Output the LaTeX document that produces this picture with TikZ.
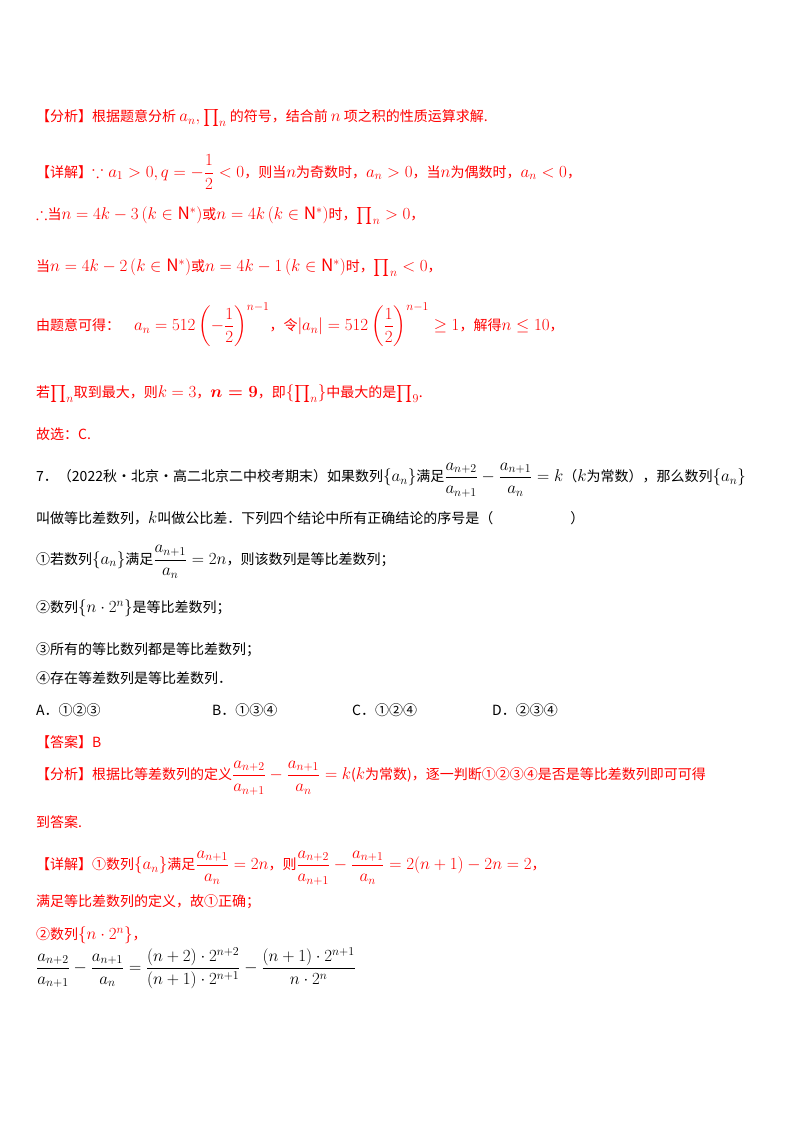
\documentclass[tikz,border=0pt]{standalone}
\usepackage{fix-cm}
\usepackage{amsmath,amssymb}
\usepackage{fontspec}
\setmainfont{Noto Sans CJK SC}
\DeclareMathSizes{14}{17}{12}{10}
\begin{document}
\begin{tikzpicture}[x=1pt,y=-1pt,
  ln/.style={anchor=west,inner sep=0pt,font=\fontsize{14}{16}\selectfont},
  rd/.style={ln,text=red}]
\useasboundingbox (0,0) rectangle (800,1132);
\node[rd] (l1) at (36,118) {【分析】根据题意分析 $a_n,\prod_n$ 的符号，结合前 $n$ 项之积的性质运算求解.};
\node[rd] (l2) at (36,172) {【详解】$\because a_1>0,q=-\dfrac12<0$，则当$n$为奇数时，$a_n>0$，当$n$为偶数时，$a_n<0$，};
\node[rd] (l3) at (36,216) {$\therefore$当$n=4k-3\left(k\in\mathrm{N}^*\right)$或$n=4k\left(k\in\mathrm{N}^*\right)$时，$\prod_n>0$，};
\node[rd] (l4) at (36,268) {当$n=4k-2\left(k\in\mathrm{N}^*\right)$或$n=4k-1\left(k\in\mathrm{N}^*\right)$时，$\prod_n<0$，};
\node[rd] (l5) at (36,325) {由题意可得：\quad $a_n=512\left(-\dfrac12\right)^{n-1}$，令$|a_n|=512\left(\dfrac12\right)^{n-1}\geq1$，解得$n\leq10$，};
\node[rd] (l6) at (36,394) {若$\prod_n$取到最大，则$k=3$，$\boldsymbol{n=9}$，即$\{\prod_n\}$中最大的是$\prod_9$.};
\node[rd] (l7) at (36,434) {故选：C.};
\node[ln] (l8) at (36,480) {7．（2022秋·北京·高二北京二中校考期末）如果数列$\{a_n\}$满足$\dfrac{a_{n+2}}{a_{n+1}}-\dfrac{a_{n+1}}{a_n}=k$（$k$为常数），那么数列$\{a_n\}$};
\node[ln] (l9) at (36,518) {叫做等比差数列，$k$叫做公比差．下列四个结论中所有正确结论的序号是（\hspace{5.5em}）};
\node[ln] (l10) at (36,562) {①若数列$\{a_n\}$满足$\dfrac{a_{n+1}}{a_n}=2n$，则该数列是等比差数列；};
\node[ln] (l11) at (36,608) {②数列$\{n\cdot2^n\}$是等比差数列；};
\node[ln] (l12) at (36,650) {③所有的等比数列都是等比差数列；};
\node[ln] (l13) at (36,678) {④存在等差数列是等比差数列．};
\node[ln] (a) at (36,710) {A．①②③};
\node[ln] (b) at (212,710) {B．①③④};
\node[ln] (c) at (352,710) {C．①②④};
\node[ln] (d) at (492,710) {D．②③④};
\node[rd] (l14) at (36,742) {【答案】B};
\node[rd] (l15) at (36,778) {【分析】根据比等差数列的定义$\dfrac{a_{n+2}}{a_{n+1}}-\dfrac{a_{n+1}}{a_n}=k$($k$为常数)，逐一判断①②③④是否是等比差数列即可可得};
\node[rd] (l16) at (36,822) {到答案.};
\node[rd] (l17) at (36,868) {【详解】①数列$\{a_n\}$满足$\dfrac{a_{n+1}}{a_n}=2n$，则$\dfrac{a_{n+2}}{a_{n+1}}-\dfrac{a_{n+1}}{a_n}=2(n+1)-2n=2$，};
\node[rd] (l18) at (36,902) {满足等比差数列的定义，故①正确；};
\node[rd] (l19) at (36,935) {②数列$\{n\cdot2^n\}$，};
\node[ln] (l20) at (36,968) {$\dfrac{a_{n+2}}{a_{n+1}}-\dfrac{a_{n+1}}{a_n}=\dfrac{(n+2)\cdot2^{n+2}}{(n+1)\cdot2^{n+1}}-\dfrac{(n+1)\cdot2^{n+1}}{n\cdot2^n}$};
\end{tikzpicture}
\end{document}
